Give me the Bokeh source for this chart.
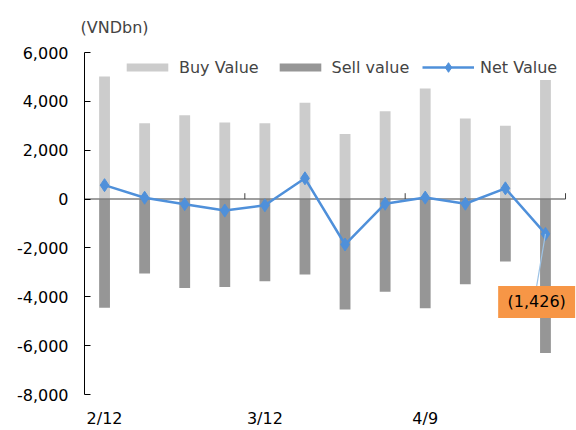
from bokeh.plotting import figure
from bokeh.models import (Range1d, FixedTicker, NumeralTickFormatter, Legend, LegendItem,
                          ColumnDataSource)
from bokeh.core.properties import value
from bokeh.embed import file_html
from bokeh.resources import INLINE

# ---- data ----
tick_labels = ["2/12", "", "", "", "3/12", "", "", "", "4/9", "", "", ""]
buy_value = [5020, 3105, 3430, 3130, 3105, 3940, 2660, 3600, 4530, 3300, 3000, 4874]
sell_value = [-4450, -3050, -3640, -3600, -3360, -3090, -4520, -3790, -4470, -3490, -2560, -6300]
net_value = [570, 55, -210, -470, -255, 850, -1860, -190, 60, -190, 440, -1426]
callout_index = 11
callout_text = "(1,426)"

FONT = "DejaVu Sans"
n = len(buy_value)
xs = [i + 0.5 for i in range(n)]

src = ColumnDataSource(dict(x=xs, buy=buy_value, sell=sell_value, net=net_value))

# frame extends to the right page edge so the callout box is not clipped
p = figure(width=576, height=430, output_backend="svg", toolbar_location=None,
           x_range=Range1d(0, n + 0.274), y_range=Range1d(-8000, 6000),
           min_border_left=84, min_border_right=0, min_border_top=51, min_border_bottom=33,
           title="(VNDbn)")
p.outline_line_color = None
p.grid.visible = False
p.background_fill_color = "white"
p.border_fill_color = "white"

p.title.text_font = FONT
p.title.text_font_size = "16px"
p.title.text_font_style = "normal"
p.title.align = "left"
p.title.offset = -4
p.title.standoff = 31

bw = 0.27
r_buy = p.vbar(x="x", top="buy", bottom=0, width=bw, source=src,
               fill_color="#CCCCCC", line_color=None)
r_sell = p.vbar(x="x", top=0, bottom="sell", width=bw, source=src,
                fill_color="#969696", line_color=None)

# zero line (category axis crossing at 0) with tick marks every 4 categories
p.segment(x0=[0], x1=[n], y0=[0], y1=[0], line_color="#7F7F7F", line_width=1.5)
tick_pos = [i for i in range(4, n + 1, 4)]
p.segment(x0=tick_pos, x1=tick_pos, y0=[0] * len(tick_pos), y1=[240] * len(tick_pos),
          line_color="#404040", line_width=1)

line_color = "#4F90DA"
r_line = p.line(x="x", y="net", source=src, line_color=line_color, line_width=2.5)
r_pts = p.scatter(x="x", y="net", source=src, marker="diamond", size=13,
                  fill_color=line_color, line_color=line_color)

# callout for last net value
cx = xs[callout_index] - 0.22
cy = -4210
p.segment(x0=[xs[callout_index]], y0=[net_value[callout_index]], x1=[cx], y1=[-3560],
          line_color="#9DC3E6", line_width=1.2)
p.rect(x=[cx], y=[cy], width=77, height=32, width_units="screen", height_units="screen",
       fill_color="#F79646", line_color=None)
p.text(x=[cx], y=[cy], text=[callout_text], text_font=value(FONT), text_font_size="16px",
       text_align="center", text_baseline="middle", text_color="black")

# axes
p.yaxis.ticker = FixedTicker(ticks=list(range(-8000, 6001, 2000)))
p.yaxis.formatter = NumeralTickFormatter(format="0,0")
p.yaxis.major_label_text_font = FONT
p.yaxis.major_label_text_font_size = "16px"
p.yaxis.major_label_text_color = "black"
p.yaxis.axis_line_color = "black"
p.yaxis.major_tick_in = 6
p.yaxis.major_tick_out = 0
p.yaxis.minor_tick_line_color = None
p.yaxis.major_label_standoff = 16

p.xaxis.ticker = FixedTicker(ticks=[xs[i] for i, t in enumerate(tick_labels) if t])
p.xaxis.major_label_overrides = {xs[i]: t for i, t in enumerate(tick_labels) if t}
p.xaxis.major_label_text_font = FONT
p.xaxis.major_label_text_font_size = "16px"
p.xaxis.major_label_text_color = "black"
p.xaxis.axis_line_color = None
p.xaxis.major_tick_line_color = None
p.xaxis.major_tick_in = 0
p.xaxis.major_tick_out = 0
p.xaxis.minor_tick_line_color = None
p.xaxis.minor_tick_in = 0
p.xaxis.minor_tick_out = 0
p.xaxis.major_label_standoff = 14

common = dict(orientation="horizontal", label_text_font=FONT, label_text_font_size="16px",
              label_standoff=6, spacing=15, padding=0, margin=0,
              border_line_color=None, background_fill_alpha=0)
legend_bars = Legend(items=[LegendItem(label="Buy Value", renderers=[r_buy]),
                            LegendItem(label="Sell value", renderers=[r_sell])],
                     location=(37, 315), glyph_width=52, glyph_height=10, label_height=24,
                     **common)
legend_line = Legend(items=[LegendItem(label="Net Value", renderers=[r_line, r_pts])],
                     location=(338, 315), glyph_width=52, glyph_height=24, label_height=24,
                     **common)
p.add_layout(legend_bars)
p.add_layout(legend_line)

open("out.html", "w").write(file_html(p, INLINE))
